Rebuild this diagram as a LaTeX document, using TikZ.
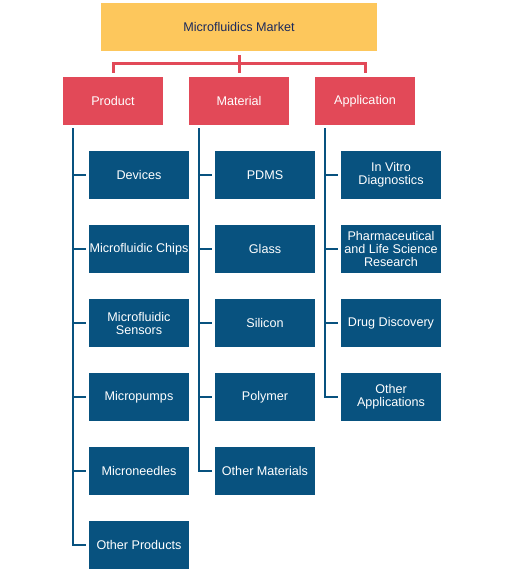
\documentclass[tikz,border=0pt]{standalone}
\usepackage{fontspec}
\setmainfont{Liberation Sans}
\usetikzlibrary{positioning}
\definecolor{mktYellow}{HTML}{FDC75C}
\definecolor{mktRed}{HTML}{E24958}
\definecolor{mktBlue}{HTML}{08527F}
\definecolor{mktNavy}{HTML}{1B2A5C}
\tikzset{mbox/.style={minimum width=100pt,minimum height=48pt,inner sep=0pt,align=center,font=\fontsize{12.6}{13}\selectfont}}
\tikzset{catbox/.style={mbox,fill=mktRed,text=white},itembox/.style={mbox,fill=mktBlue,text=white}}
\tikzset{redline/.style={draw=mktRed,line width=3pt},blueline/.style={draw=mktBlue,line width=2.5pt}}

\begin{document}
\begin{tikzpicture}[x=1pt,y=-1pt]
\useasboundingbox (0,0) rectangle (504,572);
\node[mbox,fill=mktYellow,text=mktNavy,minimum width=276pt] (top) at (239,27) {Microfluidics Market};
\node[catbox] (prod) at (113,101) {Product};\node[catbox] (mat) at (239,101) {Material};\node[catbox] (app) at (365,101) {Application};
\coordinate (bar) at (239,64);
\draw[redline] ([yshift=-4pt]top.south)--(bar);\draw[redline] ([yshift=4pt]prod.north)|-(bar)-|([yshift=4pt]app.north);\draw[redline] (bar)--([yshift=4pt]mat.north);
% children
\foreach \t [count=\i] in {Devices,Microfluidic Chips,Microfluidic\\Sensors,Micropumps,Microneedles,Other Products}
  \node[itembox] (p\i) at (139,{101+74*\i}) {\t};
\foreach \t [count=\i] in {PDMS,Glass,Silicon,Polymer,Other Materials}
  \node[itembox] (m\i) at (265,{101+74*\i}) {\t};
\foreach \t [count=\i] in {In Vitro\\Diagnostics,Pharmaceutical\\and Life Science\\Research,Drug Discovery,Other\\Applications}
  \node[itembox] (a\i) at (391,{101+74*\i}) {\t};
% trunks
\draw[blueline,shorten <=3pt] ([xshift=10pt]prod.south west)|-([xshift=-3pt]p6.west);
\draw[blueline,shorten <=3pt] ([xshift=10pt]mat.south west)|-([xshift=-3pt]m5.west);
\draw[blueline,shorten <=3pt] ([xshift=10pt]app.south west)|-([xshift=-3pt]a4.west);
\foreach \i in {1,...,5}\draw[blueline] ([xshift=10pt]prod.south west|-p\i.west)--([xshift=-3pt]p\i.west);
\foreach \i in {1,...,4}\draw[blueline] ([xshift=10pt]mat.south west|-m\i.west)--([xshift=-3pt]m\i.west);
\foreach \i in {1,...,3}\draw[blueline] ([xshift=10pt]app.south west|-a\i.west)--([xshift=-3pt]a\i.west);
\end{tikzpicture}
\end{document}
